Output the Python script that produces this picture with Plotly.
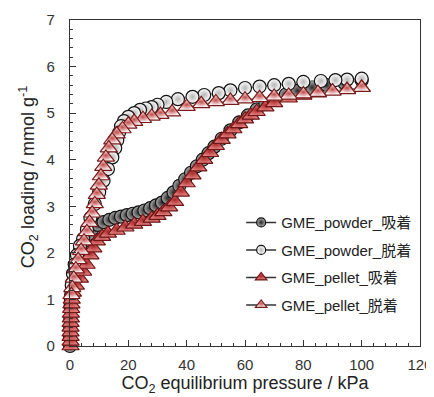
import plotly.graph_objects as go

# ---- data ----
powder_ads_p = [0, 0.02, 0.05, 0.1, 0.2, 0.4, 0.7, 1.1, 1.7, 2.5, 3.5, 4.8, 6.2, 7.8, 9.5, 11.5,
                13.5, 15.5, 17.5, 19.5, 21.5, 23.5, 25.5, 27.5, 29.5, 31.5, 33.5, 35.5, 37.5,
                39.5, 41.5, 43.5, 45.5, 47.5, 49.5, 52, 55, 58, 61, 64, 67, 70, 74, 78, 83,
                88, 94, 100]
powder_ads_q = [0, 0.2, 0.4, 0.6, 0.85, 1.1, 1.35, 1.55, 1.75, 1.95, 2.1, 2.25, 2.4, 2.52, 2.6,
                2.66, 2.71, 2.75, 2.78, 2.81, 2.84, 2.87, 2.91, 2.96, 3.02, 3.08, 3.18, 3.3,
                3.44, 3.58, 3.72, 3.86, 4.0, 4.14, 4.28, 4.45, 4.63, 4.8, 4.95, 5.08, 5.2,
                5.3, 5.4, 5.48, 5.55, 5.6, 5.65, 5.7]

powder_des_p = [100, 95, 91, 86, 80, 75, 70, 65, 60, 55, 51, 46, 42, 37, 33, 30, 28, 26, 24,
                22, 20, 18.5, 17.5, 16.8, 16.2, 15.5, 14.5, 13, 11.5, 10, 8.5, 7, 5.8, 4.5,
                3.4, 2.4, 1.6, 1.0, 0.6, 0.3]
powder_des_q = [5.74, 5.72, 5.71, 5.69, 5.67, 5.63, 5.6, 5.57, 5.54, 5.49, 5.43, 5.39, 5.35,
                5.3, 5.24, 5.18, 5.13, 5.1, 5.07, 5.0, 4.92, 4.83, 4.72, 4.58, 4.42, 4.25,
                4.05, 3.8, 3.55, 3.3, 3.05, 2.75, 2.5, 2.3, 2.15, 1.95, 1.75, 1.55, 1.3, 1.0]

pellet_ads_p = [0.2, 0.2, 0.2, 0.2, 0.2, 0.2, 0.3, 0.3, 0.4, 0.5, 0.6, 1.0, 2.0, 3.4, 4.5, 5.7,
                7.0, 8.0, 9.2, 11, 13, 16, 19, 22, 25, 28, 30, 32, 34, 36, 38, 40, 42, 44,
                46, 48, 50, 52, 54, 56, 58, 60, 62, 64, 67, 70, 75, 80, 85, 90, 95, 100]
pellet_ads_q = [0, 0.1, 0.2, 0.3, 0.4, 0.5, 0.6, 0.7, 0.8, 0.9, 1.0, 1.15, 1.3, 1.45, 1.6,
                1.75, 1.95, 2.1, 2.25, 2.35, 2.42, 2.48, 2.55, 2.61, 2.67, 2.74, 2.8, 2.88,
                2.98, 3.1, 3.3, 3.5, 3.67, 3.84, 4.0, 4.15, 4.3, 4.43, 4.55, 4.66, 4.77,
                4.87, 4.95, 5.03, 5.13, 5.22, 5.32, 5.38, 5.43, 5.47, 5.51, 5.55]

pellet_des_p = [100, 95, 90, 85, 80, 75, 70, 65, 60, 55, 50, 45, 40, 35, 31, 28, 25, 22, 20,
                18, 16, 14.5, 13.3, 12.3, 11.4, 10.6, 9.9, 9.2, 8.5, 7.6, 6.7, 5.8, 4.8,
                3.8, 2.8, 2.0, 1.3, 0.8, 0.5]
pellet_des_q = [5.55, 5.5, 5.47, 5.44, 5.41, 5.38, 5.36, 5.33, 5.3, 5.27, 5.24, 5.2, 5.14,
                5.02, 4.97, 4.93, 4.88, 4.82, 4.76, 4.66, 4.55, 4.42, 4.25, 4.05, 3.85,
                3.65, 3.45, 3.25, 3.05, 2.85, 2.65, 2.45, 2.25, 2.05, 1.85, 1.65, 1.45,
                1.25, 1.1]

series_names = ["GME_powder_吸着", "GME_powder_脱着", "GME_pellet_吸着", "GME_pellet_脱着"]

x_ticks = [0, 20, 40, 60, 80, 100, 120]
y_ticks = [0, 1, 2, 3, 4, 5, 6, 7]

# ---- styles ----
FONT = "Liberation Sans, Arial, Noto Sans CJK JP, sans-serif"
styles = [
    dict(symbol="circle", size=13, color="#b0b0b0", grad="#262626", line="#111111"),
    dict(symbol="circle", size=13, color="#ffffff", grad="#b5b5b5", line="#111111"),
    dict(symbol="triangle-up", size=15, color="#e58080", grad="#a82828", line="#6e1515"),
    dict(symbol="triangle-up", size=15, color="#ffffff", grad="#c24a4a", line="#7a1a1a"),
]
data = [(powder_ads_p, powder_ads_q), (powder_des_p, powder_des_q),
        (pellet_ads_p, pellet_ads_q), (pellet_des_p, pellet_des_q)]

fig = go.Figure()
for (xs, ys), name, st in zip(data, series_names, styles):
    fig.add_trace(go.Scatter(
        x=xs, y=ys, mode="lines+markers", name=name, showlegend=False,
        cliponaxis=False,
        line=dict(color="#8a8a8a", width=1.3),
        marker=dict(symbol=st["symbol"], size=st["size"], color=st["color"],
                    gradient=dict(type="radial", color=st["grad"]),
                    line=dict(color=st["line"], width=1.2)),
    ))
# legend entries (smaller symbols as in the reference)
for i, (name, st) in enumerate(zip(series_names, styles)):
    fig.add_trace(go.Scatter(
        x=[None], y=[None], mode="lines+markers", name=name, legendgroup=f"g{i}",
        line=dict(color="#333333", width=1.5),
        marker=dict(symbol=st["symbol"], size=9 if i < 2 else 10, color=st["color"],
                    gradient=dict(type="radial", color=st["grad"]),
                    line=dict(color=st["line"], width=1.2)),
    ))

axis_common = dict(
    showgrid=False, zeroline=False, showline=True, linecolor="#333333", linewidth=1.2,
    mirror=True, ticks="inside", ticklen=6, tickwidth=1.2, tickcolor="#333333",
    tickfont=dict(family=FONT, size=15, color="#333333"), automargin=False,
)
fig.update_xaxes(
    range=[0, 120], tickvals=x_ticks, ticklabelstandoff=5,
    minor=dict(ticks="inside", ticklen=3, tickcolor="#333333", dtick=4),
    title=dict(text="CO<sub>2</sub> equilibrium pressure / kPa",
               font=dict(family=FONT, size=18, color="#222222"), standoff=2),
    **axis_common,
)
fig.update_yaxes(
    range=[0, 7], tickvals=y_ticks, ticklabelstandoff=11,
    minor=dict(ticks="inside", ticklen=3, tickcolor="#333333", dtick=0.2),
    **axis_common,
)
# y-axis title placed as rotated text (slightly above the plot centre, as in the reference)
fig.add_annotation(
    text="CO<sub>2</sub> loading / mmol g<sup>-1</sup>", textangle=-90,
    xref="paper", yref="paper", x=-0.12, y=0.518, xanchor="center", yanchor="middle",
    showarrow=False, font=dict(family=FONT, size=18, color="#222222"),
)
# the page body adds an 8 px offset, so the figure is 8 px smaller each way
fig.update_layout(
    width=426, height=389,
    margin=dict(l=62, r=14, t=12, b=51),
    paper_bgcolor="white", plot_bgcolor="white",
    font=dict(family=FONT, color="#222222"),
    legend=dict(x=0.489, y=0.429, xanchor="left", yanchor="top",
                bgcolor="rgba(0,0,0,0)", font=dict(family=FONT, size=15, color="#222222"),
                tracegroupgap=5, itemwidth=30),
)
fig.write_html("out.html")
